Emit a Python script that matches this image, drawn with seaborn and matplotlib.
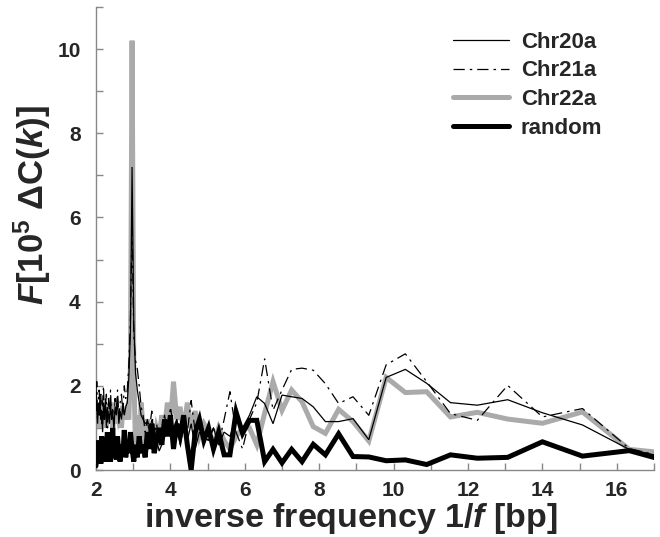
import numpy as np
import pandas as pd
import matplotlib
matplotlib.use("Agg")
import matplotlib.pyplot as plt
from matplotlib.ticker import MultipleLocator
import seaborn as sns

# Spectral index k of a 196-bp window; inverse frequency 1/f = 196/k
freq_index = np.arange(98, 10, -1)
inv_freq = 196.0 / freq_index

chr20a = [
    2.0, 1.5, 1.1, 1.6, 1.3, 1.8, 1.2, 1.4, 0.9, 1.6, 1.2, 1.7, 1.0, 1.5, 1.3,
    1.1, 1.6, 1.2, 1.4, 0.95, 1.5, 1.3, 1.7, 1.1, 1.4, 1.2, 1.6, 1.3, 1.5,
    1.6, 2.2, 3.3, 7.2, 3.5, 2.3, 1.9, 1.6, 1.3,
    1.2, 1.1, 1.15, 0.9, 1.2, 1.0, 0.7, 0.45, 0.6, 1.1, 0.9, 1.3, 0.8, 1.2,
    0.6, 1.0, 0.7, 1.1, 0.5, 0.9, 0.8,
    0.7, 1.0, 0.6, 0.9, 0.8, 1.2, 1.0, 1.3,
    1.74, 1.58, 1.1, 1.78, 1.74, 1.7, 1.5, 1.15, 1.15, 1.22, 0.72, 2.2, 2.39,
    2.06, 1.6, 1.54, 1.67, 1.36, 1.07, 0.49, 0.2,
]
chr21a = [
    1.4, 2.1, 1.2, 1.7, 1.9, 1.3, 1.8, 1.1, 1.6, 2.0, 1.2, 1.5, 1.8, 1.0, 1.7,
    1.3, 1.9, 1.2, 1.5, 1.1, 1.7, 1.4, 1.9, 1.2, 1.6, 1.8, 1.3, 2.0, 1.7,
    1.9, 2.5, 3.6, 5.8, 3.2, 2.6, 2.4, 2.0, 1.5,
    1.3, 0.9, 1.2, 1.0, 1.4, 0.8, 1.1, 0.6, 1.0, 1.3, 0.9, 1.5, 1.0, 1.2,
    0.8, 1.1, 0.9, 1.65, 0.9, 1.1, 0.8,
    0.7, 1.0, 0.6, 1.2, 1.86, 0.9, 0.5, 1.2,
    1.6, 2.64, 1.42, 1.9, 2.39, 2.42, 2.37, 2.05, 1.58, 1.74, 1.30, 2.5, 2.76,
    2.1, 1.34, 1.18, 2.01, 1.26, 1.46, 0.51, 0.2,
]
chr22a = [
    1.3, 1.1, 1.5, 1.2, 1.4, 1.0, 1.3, 1.6, 1.1, 1.4, 1.2, 1.5, 1.0, 1.3, 1.1,
    1.4, 1.2, 1.6, 1.0, 1.3, 1.5, 1.1, 1.4, 1.2, 1.3, 1.0, 1.5, 1.2, 1.4,
    1.5, 1.2, 2.5, 10.2, 2.4, 0.5, 1.3, 0.4, 1.6,
    1.0, 0.6, 1.2, 0.8, 1.1, 0.5, 1.0, 0.8, 1.3, 1.0, 1.6, 1.1, 2.1, 1.2,
    1.5, 0.9, 1.6, 1.0, 1.4, 0.8, 1.1,
    0.9, 0.6, 1.0, 0.7, 0.5, 0.8, 1.0, 1.0,
    0.6, 1.35, 2.1, 1.42, 1.9, 1.62, 1.03, 0.87, 1.44, 1.15, 0.69, 2.2, 1.84,
    1.86, 1.26, 1.37, 1.21, 1.11, 1.38, 0.49, 0.36,
]
random_seq = [
    0.1, 0.5, 0.2, 0.7, 0.3, 0.6, 0.15, 0.8, 0.4, 0.3, 0.7, 0.2, 0.55, 0.9,
    0.35, 0.6, 0.2, 0.5, 1.0, 0.3, 0.65, 0.25, 0.8, 0.4, 0.2, 0.6, 0.35, 0.95,
    0.3,
    0.7, 0.4, 0.9, 0.5, 0.2, 0.6, 0.3, 0.8, 0.4,
    0.6, 0.3, 0.9, 0.5, 1.1, 0.4, 0.7, 1.0, 0.6, 1.2, 0.8, 1.3, 0.5, 1.1,
    0.8, 1.3, 0.6, 0.0, 0.9, 1.2, 0.7,
    1.0, 0.5, 0.9, 0.36, 0.36, 1.38, 0.87, 1.18,
    1.18, 0.2, 0.49, 0.17, 0.49, 0.2, 0.61, 0.36, 0.86, 0.32, 0.31, 0.22, 0.24,
    0.13, 0.36, 0.28, 0.3, 0.67, 0.33, 0.46, 0.1,
]

series_names = ["Chr20a", "Chr21a", "Chr22a", "random"]

df = pd.DataFrame({
    "inv_freq": np.tile(inv_freq, 4),
    "value": np.concatenate([chr20a, chr21a, chr22a, random_seq]),
    "series": np.repeat(series_names, len(inv_freq)),
})

sns.set_theme(style="ticks")
plt.rcParams["font.family"] = ["Liberation Sans", "DejaVu Sans"]
plt.rcParams["mathtext.fontset"] = "custom"
plt.rcParams["mathtext.rm"] = "Liberation Sans:bold"
plt.rcParams["mathtext.it"] = "Liberation Sans:bold:italic"
plt.rcParams["mathtext.bf"] = "Liberation Sans:bold"

fig = plt.figure(figsize=(6.6, 5.37), dpi=100)
ax = fig.add_axes([96 / 660, 1 - 470 / 537, 558 / 660, 463 / 537])

styles = {
    "Chr20a": dict(color="black", lw=0.9, zorder=3),
    "Chr21a": dict(color="black", lw=0.9, zorder=3, dashes=(9, 4, 2, 4)),
    "Chr22a": dict(color="#aaaaaa", lw=3.6, zorder=2),
    "random": dict(color="black", lw=3.6, zorder=4),
}

for name in series_names:
    sub = df[df["series"] == name]
    st = dict(styles[name])
    dashes = st.pop("dashes", None)
    sns.lineplot(data=sub, x="inv_freq", y="value", ax=ax, estimator=None,
                 sort=False, label=name, solid_joinstyle="miter",
                 **st)
    if dashes is not None:
        ax.lines[-1].set_dashes(dashes)

ax.set_xlim(2, 17)
ax.set_ylim(0, 11)
ax.xaxis.set_major_locator(MultipleLocator(2))
ax.xaxis.set_minor_locator(MultipleLocator(1))
ax.yaxis.set_major_locator(MultipleLocator(2))
ax.yaxis.set_minor_locator(MultipleLocator(1))
ax.tick_params(which="both", direction="in", length=5, width=1,
               color="#888888", labelsize=15)
ax.tick_params(axis="x", which="both", pad=8)
ax.tick_params(axis="y", which="both", pad=11)
for lab in ax.get_xticklabels() + ax.get_yticklabels():
    lab.set_fontweight("bold")
for side in ["top", "right"]:
    ax.spines[side].set_visible(False)
for side in ["left", "bottom"]:
    ax.spines[side].set_color("#888888")
    ax.spines[side].set_linewidth(1)

ax.set_xlabel("inverse frequency 1/$\\mathit{f}$ [bp]", fontsize=24.5,
              fontweight="bold")
ax.set_ylabel("$\\mathit{F}$[10$^{5}$ \u0394C($\\mathit{k}$)]", fontsize=25,
              fontweight="bold")
ax.xaxis.set_label_coords(0.457, -0.067)
ax.yaxis.set_label_coords(-0.115, 0.572)
ax.yaxis.label.set_va("center")

leg = ax.legend(loc="upper left", bbox_to_anchor=(0.64, 0.947), frameon=False,
                fontsize=16, handlelength=2.5, handletextpad=0.55,
                labelspacing=0.35, borderpad=0, borderaxespad=0)
for t in leg.get_texts():
    t.set_fontweight("bold")

fig.savefig("out.png", dpi=100)
